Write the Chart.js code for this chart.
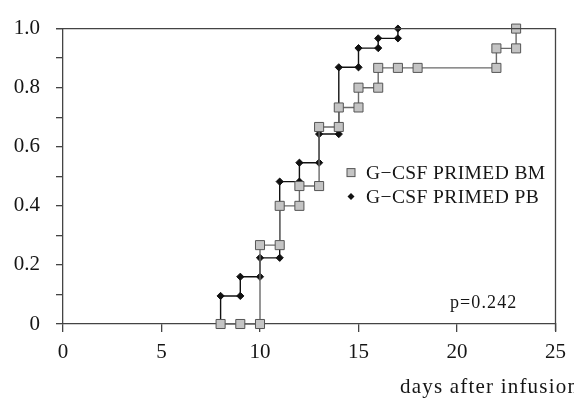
<!DOCTYPE html>
<html>
<head>
<meta charset="utf-8">
<script src="https://cdn.jsdelivr.net/npm/chart.js@4.4.1/dist/chart.umd.min.js"></script>
<style>
  html, body { margin: 0; padding: 0; background: #fff; }
  #wrap { width: 574px; height: 399px; }
</style>
</head>
<body>
<div id="wrap"><canvas id="chart" width="574" height="399"></canvas></div>
<script>
// dados (dias x proporcao)
const bmDays = [8, 9, 10, 10, 11, 11, 12, 12, 13, 13, 14, 14, 15, 15, 16, 16, 17, 18, 22, 22, 23, 23];
const bmValues = [0, 0, 0, 0.267, 0.267, 0.4, 0.4, 0.467, 0.467, 0.667, 0.667, 0.733, 0.733, 0.8, 0.8, 0.867, 0.867, 0.867, 0.867, 0.933, 0.933, 1.0];

const pbDays = [8, 8, 9, 9, 10, 10, 11, 11, 12, 12, 13, 13, 14, 14, 15, 15, 16, 16, 17, 17];
const pbValues = [0, 0.095, 0.095, 0.16, 0.16, 0.224, 0.224, 0.482, 0.482, 0.546, 0.546, 0.643, 0.643, 0.869, 0.869, 0.934, 0.934, 0.967, 0.967, 1.0];

const xTicks = [0, 5, 10, 15, 20, 25];
const yTickLabels = ['0', '0.2', '0.4', '0.6', '0.8', '1.0'];

const labelBM = 'G\u2212CSF PRIMED BM';
const labelPB = 'G\u2212CSF PRIMED PB';
const pValue = 'p=0.242';
const xTitle = 'days after infusion';

const serif = '"Liberation Serif", "DejaVu Serif", serif';

function toPoints(xs, ys) {
  return xs.map((x, i) => ({ x: x, y: ys[i] }));
}

// moldura de cima e da direita + legenda + textos
const extras = {
  id: 'extras',
  afterDraw(chart) {
    const ctx = chart.ctx;
    const a = chart.chartArea;
    ctx.save();
    ctx.strokeStyle = '#444';
    ctx.lineWidth = 1.3;
    ctx.beginPath();
    ctx.moveTo(a.left - 7, a.top);
    ctx.lineTo(a.right, a.top);
    ctx.lineTo(a.right, a.bottom + 7);
    ctx.stroke();

    // legenda
    const lx = a.left + 288;
    const rows = [
      { y: a.top + 144, ds: chart.data.datasets[0] },
      { y: a.top + 168, ds: chart.data.datasets[1] }
    ];
    ctx.font = '19.5px ' + serif;
    ctx.textBaseline = 'middle';
    rows.forEach(r => {
      const ds = r.ds;
      ctx.fillStyle = ds.pointBackgroundColor;
      ctx.strokeStyle = ds.pointBorderColor;
      ctx.lineWidth = 1;
      if (ds.pointStyle === 'rect') {
        ctx.fillRect(lx - 4, r.y - 4, 8, 8);
        ctx.strokeRect(lx - 4, r.y - 4, 8, 8);
      } else {
        ctx.beginPath();
        ctx.moveTo(lx, r.y - 3.5);
        ctx.lineTo(lx + 3.5, r.y);
        ctx.lineTo(lx, r.y + 3.5);
        ctx.lineTo(lx - 3.5, r.y);
        ctx.closePath();
        ctx.fill();
      }
      ctx.fillStyle = '#151515';
      ctx.letterSpacing = '0.4px';
      ctx.fillText(ds.label, lx + 15, r.y + 1);
    });

    ctx.font = '18px ' + serif;
    ctx.letterSpacing = '1.1px';
    ctx.textBaseline = 'alphabetic';
    ctx.fillText(pValue, a.left + 387, a.bottom - 16);

    ctx.font = '21px ' + serif;
    ctx.letterSpacing = '1.2px';
    ctx.fillText(xTitle, a.left + 337, a.bottom + 69);
    ctx.restore();
  }
};

const ctx = document.getElementById('chart');
new Chart(ctx, {
  type: 'line',
  data: {
    datasets: [
      {
        label: labelBM,
        data: toPoints(bmDays, bmValues),
        borderColor: '#6a6a6a',
        borderWidth: 1.4,
        pointStyle: 'rect',
        pointRadius: 6.4,
        pointBackgroundColor: '#c4c4c4',
        pointBorderColor: '#555',
        pointBorderWidth: 1,
        tension: 0,
        fill: false,
        clip: false
      },
      {
        label: labelPB,
        data: toPoints(pbDays, pbValues),
        borderColor: '#111',
        borderWidth: 1.4,
        pointStyle: 'rectRot',
        pointRadius: 3.6,
        pointBackgroundColor: '#111',
        pointBorderColor: '#111',
        pointBorderWidth: 1,
        tension: 0,
        fill: false,
        clip: false
      }
    ]
  },
  options: {
    responsive: false,
    animation: false,
    layout: { padding: { left: 0, top: 13, right: 14, bottom: 0 } },
    plugins: {
      legend: { display: false },
      tooltip: { enabled: false }
    },
    scales: {
      x: {
        type: 'linear',
        min: 0,
        max: 25,
        afterBuildTicks: (scale) => { scale.ticks = xTicks.map(v => ({ value: v })); },
        afterFit: (scale) => { scale.height = 75; },
        ticks: {
          color: '#151515',
          font: { family: serif, size: 21 },
          padding: 8,
          maxRotation: 0,
          callback: (v) => String(v)
        },
        grid: { drawOnChartArea: false, drawTicks: true, tickLength: 8, color: '#444', lineWidth: 1.3 },
        border: { display: true, color: '#444', width: 1.3 }
      },
      y: {
        type: 'linear',
        min: 0,
        max: 1,
        afterBuildTicks: (scale) => {
          const t = [];
          for (let i = 0; i <= 10; i++) t.push({ value: i / 10 });
          scale.ticks = t;
        },
        afterFit: (scale) => { scale.width = 63; },
        ticks: {
          color: '#151515',
          font: { family: serif, size: 21 },
          padding: 16,
          callback: (v) => {
            const i = Math.round(v * 10);
            return i % 2 === 0 ? yTickLabels[i / 2] : '';
          }
        },
        grid: { drawOnChartArea: false, drawTicks: true, tickLength: 7, color: '#444', lineWidth: 1.3 },
        border: { display: true, color: '#444', width: 1.3 }
      }
    }
  },
  plugins: [extras]
});
</script>
</body>
</html>
